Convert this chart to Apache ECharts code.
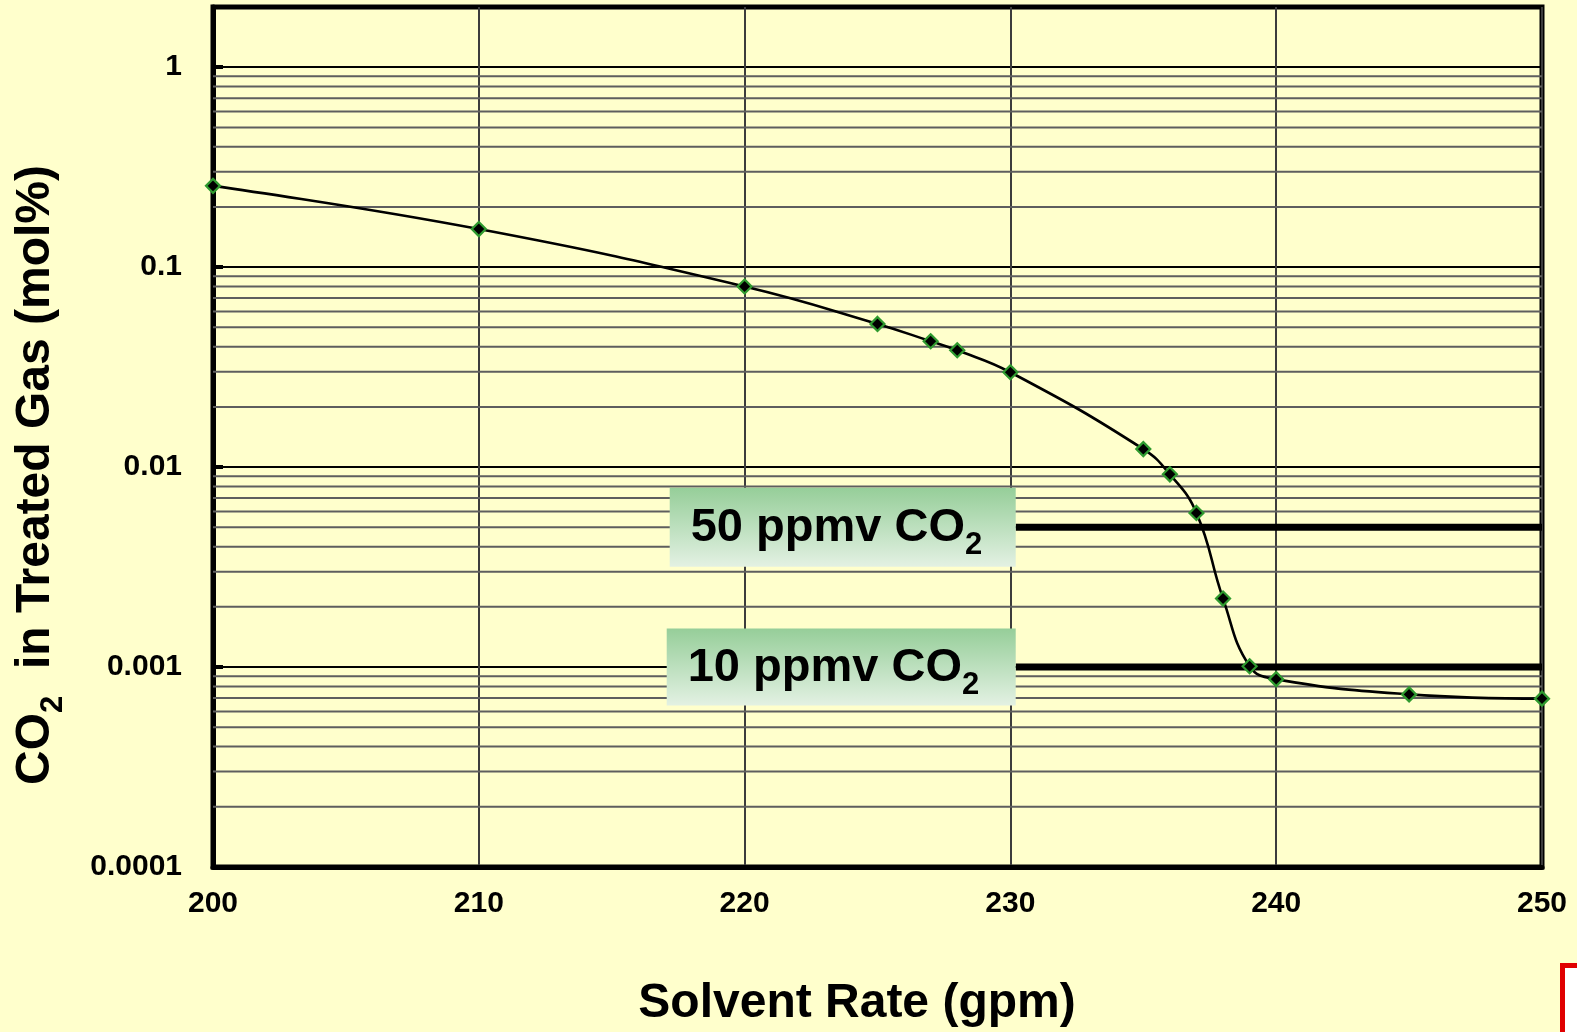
<!DOCTYPE html>
<html>
<head>
<meta charset="utf-8">
<title>CO2 in Treated Gas vs Solvent Rate</title>
<script src="https://cdn.jsdelivr.net/npm/echarts@6/dist/echarts.min.js"></script>
<style>
  html, body { margin: 0; padding: 0; background: #ffffcc; }
  #chart { width: 1577px; height: 1032px; }
</style>
</head>
<body>
<div id="chart"></div>
<script>
// Solvent circulation rate (gpm) and CO2 left in the treated gas (mol%)
const solventRate = [200, 210, 220, 225, 227, 228, 230, 235, 236, 237, 238, 239, 240, 245, 250];
const co2MolPct = [0.255, 0.155, 0.08, 0.052, 0.0426, 0.0384, 0.0298, 0.0123, 0.0092, 0.0059, 0.0022, 0.00101, 0.00087, 0.00073, 0.000695];

// Product specifications drawn as horizontal limits (mol%)
const specNames = ['50 ppmv', '10 ppmv'];
const specValues = [0.005, 0.001];
const specStart = 230.2;   // limit lines begin where their label boxes end
const specEnd = 250;

// Axis ticks
const xTicks = [200, 210, 220, 230, 240, 250];
const yDecades = [0.0001, 0.001, 0.01, 0.1, 1];
const yTickLabels = ['0.0001', '0.001', '0.01', '0.1', '1'];

const FONT = "'Liberation Sans', Arial, sans-serif";

const chart = echarts.init(document.getElementById('chart'), null, { renderer: 'canvas' });

const series = [];

// Minor log grid (2..9 within each decade), one thin line per level
yDecades.slice(0, -1).forEach(d => {
  for (let m = 2; m <= 9; m++) {
    const v = +(m * d).toPrecision(3);
    series.push({
      type: 'line',
      silent: true,
      data: [[xTicks[0], v], [xTicks[xTicks.length - 1], v]],
      symbol: 'none',
      lineStyle: { color: '#5e5e5e', width: 2 },
      z: 1
    });
  }
});

// Specification limits
specValues.forEach((v, i) => {
  series.push({
    name: specNames[i],
    type: 'line',
    data: [[specStart, v], [specEnd, v]],
    symbol: 'none',
    lineStyle: { color: '#000', width: 7 },
    z: 4
  });
});

// Measured response curve
series.push({
  name: 'CO2',
  type: 'line',
  data: solventRate.map((x, i) => [x, co2MolPct[i]]),
  smooth: 0.45,
  symbol: 'diamond',
  symbolSize: [14, 14],
  lineStyle: { color: '#000', width: 2.6 },
  itemStyle: { color: '#000', borderColor: '#2f9a2f', borderWidth: 2.2 },
  z: 5
});

chart.setOption({
  backgroundColor: '#ffffcc',
  animation: false,
  grid: {
    left: 213, right: 35, top: 7, bottom: 165,
    show: true, borderColor: '#000', borderWidth: 5, backgroundColor: 'transparent'
  },
  xAxis: {
    type: 'value',
    min: 200, max: 250, interval: 10,
    axisLine: { lineStyle: { color: '#000', width: 5 } },
    axisTick: { show: false },
    axisLabel: {
      margin: 22, color: '#000', fontSize: 30, fontWeight: 'bold', fontFamily: FONT,
      formatter: v => (xTicks.indexOf(v) >= 0 ? String(v) : '')
    },
    splitLine: { show: true, lineStyle: { color: '#3c3c3c', width: 2 } }
  },
  yAxis: {
    type: 'log',
    logBase: 10,
    min: 0.0001, max: 2,
    axisLine: { lineStyle: { color: '#000', width: 5 } },
    axisTick: { show: true, inside: true, length: 10, lineStyle: { color: '#000', width: 4 } },
    axisLabel: {
      margin: 31, color: '#000', fontSize: 30, fontWeight: 'bold', fontFamily: FONT,
      showMaxLabel: false,
      formatter: v => {
        const k = yDecades.findIndex(d => Math.abs(Math.log10(v) - Math.log10(d)) < 1e-6);
        return k >= 0 ? yTickLabels[k] : '';
      }
    },
    splitLine: { show: true, lineStyle: { color: '#000', width: 2 } }
  },
  series: series
});

// Rich text styles shared by titles and spec labels
function richStyles(main, sub, subPad) {
  return {
    m: { fontSize: main, fontWeight: 'bold', fontFamily: FONT, fill: '#000', lineHeight: main + 4 },
    s: { fontSize: sub, fontWeight: 'bold', fontFamily: FONT, fill: '#000', lineHeight: sub,
         padding: [subPad, 0, 0, 0] }
  };
}

const graphics = [];

// Spec label boxes, centred on their limit lines and ending where the lines start
specValues.forEach((v, i) => {
  const right = chart.convertToPixel({ gridIndex: 0 }, [specStart, v]);
  const width = i === 0 ? 346 : 349;
  const height = i === 0 ? 79 : 77;
  graphics.push({
    type: 'rect',
    z: 100,
    shape: { x: right[0] - width, y: right[1] - height / 2, width: width, height: height },
    style: {
      fill: new echarts.graphic.LinearGradient(0, 0, 0, 1, [
        { offset: 0, color: '#96ce99' },
        { offset: 1, color: '#e3f1e3' }
      ])
    }
  });
  graphics.push({
    type: 'text',
    z: 101,
    x: right[0] - width + 21,
    y: right[1] + 1,
    style: {
      text: '{m|' + specNames[i] + ' CO}{s|2}',
      rich: richStyles(47, 31, 34),
      align: 'left',
      verticalAlign: 'middle'
    }
  });
});

// Axis titles
graphics.push({
  type: 'text',
  z: 100,
  x: 857, y: 1004,
  style: {
    text: '{m|Solvent Rate (gpm)}',
    rich: richStyles(48, 31, 34),
    align: 'center',
    verticalAlign: 'middle'
  }
});
graphics.push({
  type: 'text',
  z: 100,
  x: 36, y: 475,
  rotation: Math.PI / 2,
  style: {
    text: '{m|CO}{s|2}{m|  in Treated Gas (mol%)}',
    rich: richStyles(48, 31, 34),
    align: 'center',
    verticalAlign: 'middle'
  }
});

// Corner of the neighbouring frame
graphics.push({
  type: 'rect',
  z: 100,
  shape: { x: 1562.5, y: 965.5, width: 60, height: 100 },
  style: { fill: '#ffffff', stroke: '#e00000', lineWidth: 5 }
});

chart.setOption({ graphic: graphics });
</script>
</body>
</html>
